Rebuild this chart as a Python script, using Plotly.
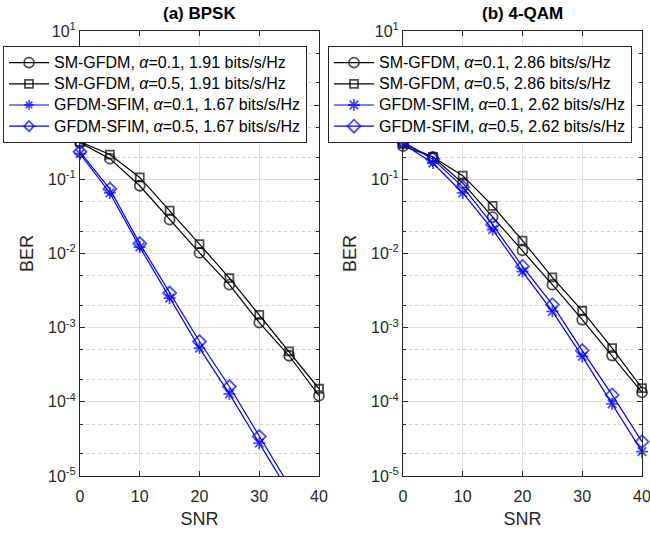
import plotly.graph_objects as go

snr = [0, 5, 10, 15, 20, 25, 30, 35, 40]

# (a) BPSK
bpsk_sm_01 = [0.31, 0.19, 0.082, 0.0286, 0.0102, 0.0038, 0.00117, 0.000418, 0.000121]
bpsk_sm_05 = [0.32, 0.216, 0.106, 0.0379, 0.0134, 0.00466, 0.00149, 0.000478, 0.00015]
bpsk_sf_01 = [0.222, 0.0655, 0.0122, 0.0025, 0.00053, 0.000128, 2.77e-5, 6.0e-6, 1.3e-6]
bpsk_sf_05 = [0.235, 0.074, 0.0136, 0.00293, 0.00065, 0.000161, 3.4e-5, 7.5e-6, 1.6e-6]

# (b) 4-QAM
qam_sm_01 = [0.28, 0.2, 0.089, 0.031, 0.011, 0.0038, 0.00128, 0.00042, 0.000134]
qam_sm_05 = [0.30, 0.2, 0.112, 0.044, 0.0149, 0.00476, 0.00169, 0.00053, 0.000153]
qam_sf_01 = [0.30, 0.166, 0.0655, 0.021, 0.0057, 0.00166, 0.00041, 9.4e-5, 2.13e-5]
qam_sf_05 = [0.32, 0.187, 0.079, 0.0245, 0.0067, 0.00204, 0.00049, 0.000124, 2.9e-5]

names_a = ["SM-GFDM, <i>α</i>=0.1, 1.91 bits/s/Hz",
           "SM-GFDM, <i>α</i>=0.5, 1.91 bits/s/Hz",
           "GFDM-SFIM, <i>α</i>=0.1, 1.67 bits/s/Hz",
           "GFDM-SFIM, <i>α</i>=0.5, 1.67 bits/s/Hz"]
names_b = ["SM-GFDM, <i>α</i>=0.1, 2.86 bits/s/Hz",
           "SM-GFDM, <i>α</i>=0.5, 2.86 bits/s/Hz",
           "GFDM-SFIM, <i>α</i>=0.1, 2.62 bits/s/Hz",
           "GFDM-SFIM, <i>α</i>=0.5, 2.62 bits/s/Hz"]
titles = ["(a) BPSK", "(b) 4-QAM"]

ytickvals = [1e-5, 1e-4, 1e-3, 1e-2, 1e-1, 1e0, 1e1]
yticktext = ["10<sup>-5</sup>", "10<sup>-4</sup>", "10<sup>-3</sup>", "10<sup>-2</sup>",
             "10<sup>-1</sup>", "10<sup>0</sup>", "10<sup>1</sup>"]
xtickvals = [0, 10, 20, 30, 40]
YMIN = 1e-5

FONT = "Arial, Liberation Sans, sans-serif"
styles = [
    dict(color="black", symbol="circle-open", size=10),
    dict(color="black", symbol="square-open", size=8),
    dict(color="#0000ff", symbol="asterisk-open", size=10),
    dict(color="#0000ff", symbol="diamond-open", size=10),
]

fig = go.Figure()
panels = [
    ([bpsk_sm_01, bpsk_sm_05, bpsk_sf_01, bpsk_sf_05], names_a, "x", "y", "legend"),
    ([qam_sm_01, qam_sm_05, qam_sf_01, qam_sf_05], names_b, "x2", "y2", "legend2"),
]
for series, names, xa, ya, lg in panels:
    for vals, nm, st in zip(series, names, styles):
        # markers are not clipped at the axes, so hide those below the visible range
        sizes = [st["size"] if v >= YMIN else 0 for v in vals]
        fig.add_trace(go.Scatter(
            x=snr, y=vals, name='<span style="font-size:16px">%s</span>' % nm,
            mode="lines+markers", cliponaxis=False,
            xaxis=xa, yaxis=ya, legend=lg,
            line=dict(color=st["color"], width=1.2),
            marker=dict(symbol=st["symbol"], size=sizes, color=st["color"],
                        line=dict(color=st["color"], width=1.8)),
        ))

axis_common = dict(
    showline=True, linecolor="#262626", linewidth=1, mirror="ticks",
    ticks="inside", ticklen=5, tickcolor="#262626", automargin=False,
    ticklabeloverflow="allow",
    tickfont=dict(family=FONT, size=16, color="#262626"),
    showgrid=True, gridcolor="#dedede", gridwidth=1, zeroline=False,
)
xdoms = [[80 / 650, 319 / 650], [403 / 650, 642 / 650]]
layout = dict(
    width=650, height=535,
    margin=dict(l=0, r=0, t=31, b=59, autoexpand=False),
    plot_bgcolor="white", paper_bgcolor="white",
    font=dict(family=FONT, color="#262626"),
    showlegend=True,
)
for i, (xk, yk) in enumerate([("xaxis", "yaxis"), ("xaxis2", "yaxis2")]):
    anchor_y = "y" if i == 0 else "y2"
    anchor_x = "x" if i == 0 else "x2"
    layout[xk] = dict(axis_common, domain=xdoms[i], anchor=anchor_y, range=[0, 40],
                      tickvals=xtickvals, ticklabelstandoff=6,
                      title=dict(text="SNR", font=dict(family=FONT, size=18, color="#262626"),
                                 standoff=8))
    layout[yk] = dict(axis_common, type="log", domain=[0, 1], anchor=anchor_x,
                      range=[-5, 1], tickvals=ytickvals, ticktext=yticktext,
                      minor=dict(ticks="inside", ticklen=3, tickcolor="#262626",
                                 showgrid=True, gridcolor="#cfcfcf", griddash="dot",
                                 gridwidth=1),
                      title=dict(text="BER", font=dict(family=FONT, size=18, color="#262626"),
                                 standoff=9))
leg_common = dict(bgcolor="white", bordercolor="#262626", borderwidth=1,
                  font=dict(family=FONT, size=14, color="#000000"),
                  xanchor="left", yanchor="top", tracegroupgap=0, itemwidth=40)
layout["legend"] = dict(leg_common, x=3 / 650, y=1 - (46 - 31) / 445)
layout["legend2"] = dict(leg_common, x=328 / 650, y=1 - (46 - 31) / 445)

annotations = []
for i, t in enumerate(titles):
    annotations.append(dict(text="<b>%s</b>" % t, xref="paper", yref="paper",
                            x=sum(xdoms[i]) / 2, y=1 + 17 / 445, xanchor="center",
                            yanchor="middle", showarrow=False,
                            font=dict(family=FONT, size=17, color="black")))
layout["annotations"] = annotations
fig.update_layout(**layout)

fig.write_html("out.html", config={"displayModeBar": False},
               post_script="document.body.style.margin='0';document.body.style.padding='0';")
